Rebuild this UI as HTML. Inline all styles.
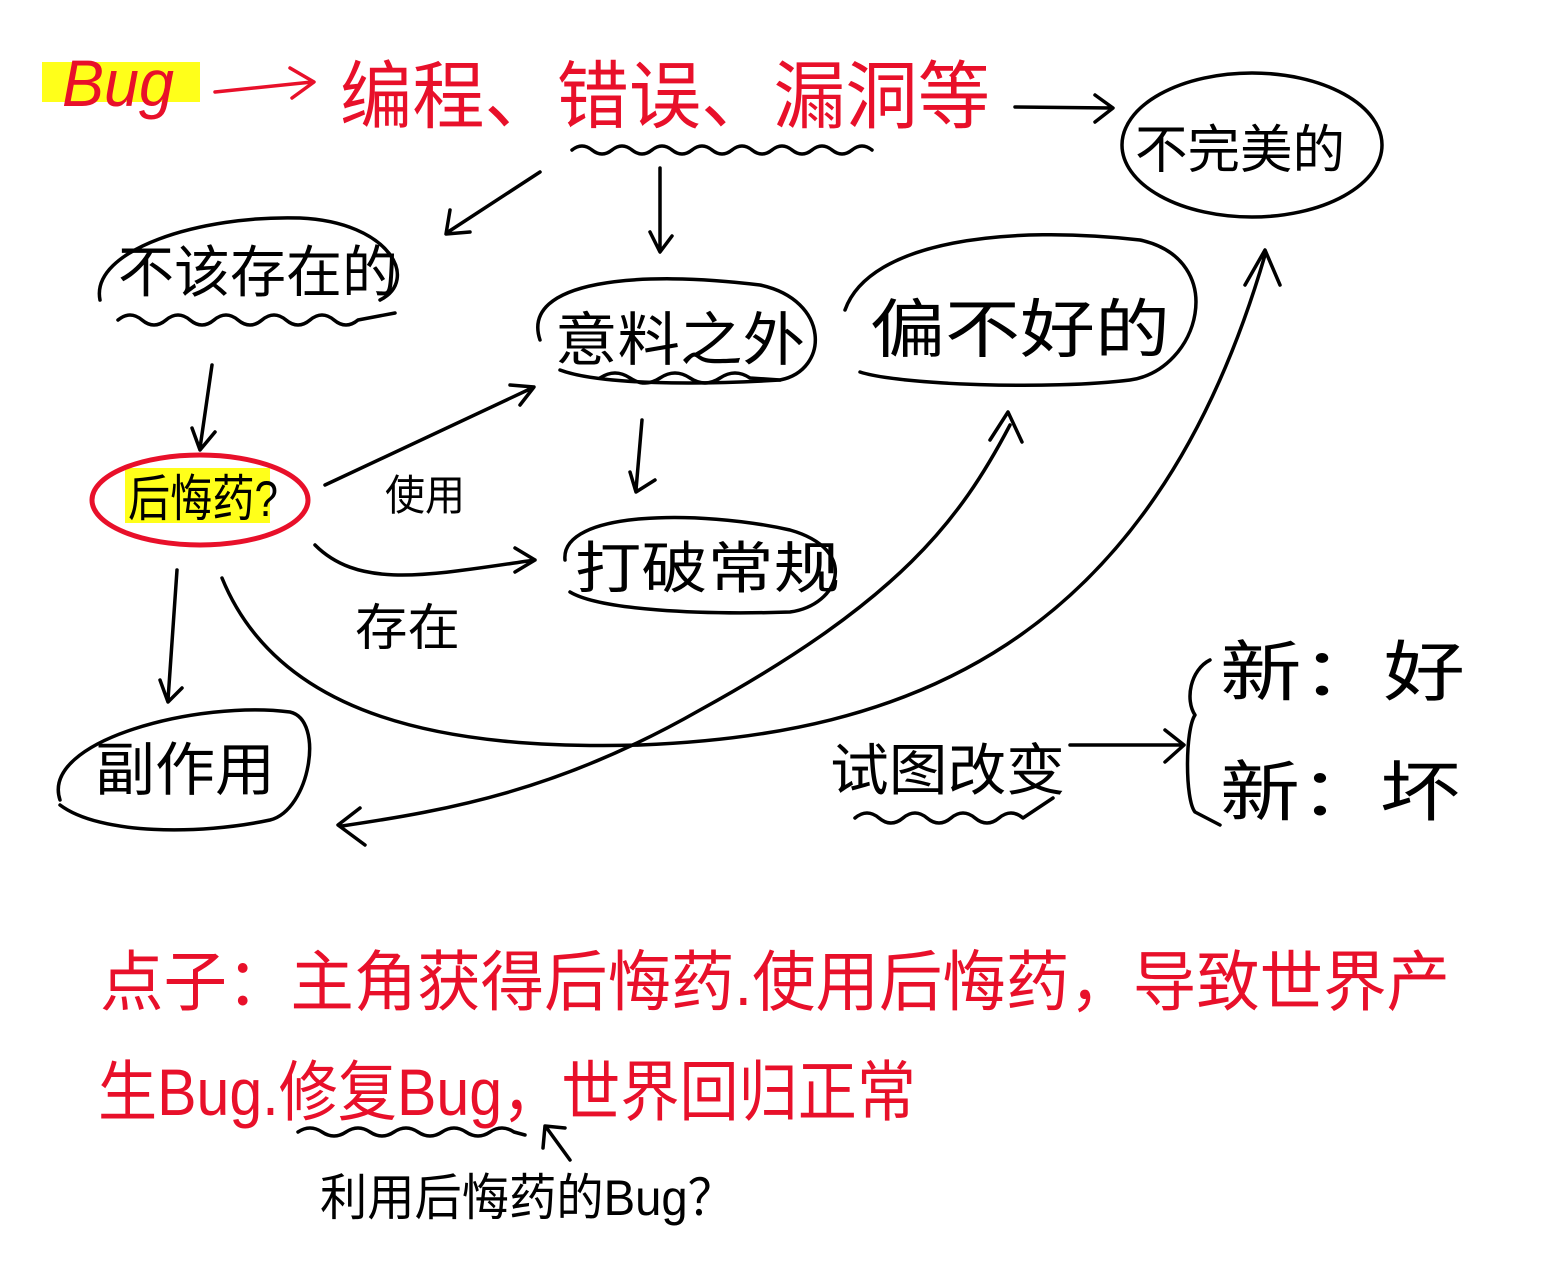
<!DOCTYPE html>
<html><head><meta charset="utf-8"><style>
html,body{margin:0;padding:0;background:#fff;}
svg{display:block;}
text{font-family:"Liberation Sans","Noto Sans CJK SC",sans-serif;}
</style></head><body>
<svg width="1543" height="1282" viewBox="0 0 1543 1282" xmlns="http://www.w3.org/2000/svg">
<g fill="none" stroke="#000" stroke-width="3.5" stroke-linecap="round" stroke-linejoin="round">
<rect x="42" y="62" width="158" height="40" fill="#ffff1a" stroke="none"/>
<rect x="125" y="468" width="145" height="55" fill="#ffff1a" stroke="none"/>
<path d="M215 92 L312 82 M290 68 L314 82 L292 98" stroke="#e8102a"/>
<path d="M1015 107 L1112 108 M1095 95 L1113 108 L1095 122"/>
<path d="M572 150 q10 -8 20 0 t20 0 t20 0 t20 0 t20 0 t20 0 t20 0 t20 0 t20 0 t20 0 t20 0 t20 0 t20 0 t20 0 t20 0"/>
<ellipse cx="1252" cy="145" rx="130" ry="72"/>
<path d="M100 300 C90 250 200 215 300 218 C390 222 420 280 380 300"/>
<path d="M118 320 q12 -10 24 0 t24 0 t24 0 t24 0 t24 0 t24 0 t24 0 t24 0 t24 0 t24 0 L395 313"/>
<path d="M540 340 C520 280 640 270 760 285 C830 300 830 370 780 380 C700 385 600 385 560 370"/>
<path d="M600 378 q15 -10 30 0 t30 0 t30 0 t30 0 t30 0 L780 380"/>
<path d="M845 310 C870 240 1010 225 1140 240 C1230 260 1200 370 1130 380 C1050 390 900 385 860 372"/>
<ellipse cx="200" cy="500" rx="108" ry="45" stroke="#e8102a" stroke-width="5"/>
<path d="M565 560 C560 510 700 510 790 530 C860 550 840 605 790 612 C700 615 600 610 570 592"/>
<path d="M60 800 C40 740 200 700 290 712 C325 720 310 810 270 820 C200 835 100 835 60 805"/>
<path d="M540 172 L448 232 M450 210 L446 234 L470 232"/>
<path d="M660 168 L660 250 M650 232 L660 252 L672 236"/>
<path d="M212 365 L200 448 M192 428 L200 450 L215 432"/>
<path d="M325 485 L532 388 M510 385 L534 387 L520 405"/>
<path d="M642 420 L636 490 M630 472 L636 492 L655 480"/>
<path d="M315 545 C360 590 430 575 535 560 M515 548 L535 560 L515 572"/>
<path d="M177 570 L168 700 M160 680 L168 702 L182 688"/>
<path d="M222 578 C280 720 450 750 640 745 C900 735 1150 650 1265 255 M1245 285 L1265 250 L1280 285"/>
<path d="M1010 425 C960 520 900 600 700 710 C560 790 450 810 342 826 M360 808 L338 825 L365 845 M990 440 L1008 412 L1022 442"/>
<path d="M1070 745 L1182 745 M1165 730 L1184 745 L1165 762"/>
<path d="M855 818 q12 -10 24 0 t24 0 t24 0 t24 0 t24 0 t24 0 t24 0 q15 -10 30 -20"/>
<path d="M1210 660 C1190 670 1185 700 1195 715 C1185 730 1185 800 1195 812 L1220 825"/>
<path d="M298 1132 q12 -8 24 0 t24 0 t24 0 t24 0 t24 0 t24 0 t24 0 t24 0 t24 0 L525 1135"/>
<path d="M570 1160 L546 1127 M543 1148 L545 1126 L565 1128"/>
</g>
<g fill="#e8102a">
<text x="62" y="106" font-size="66" font-style="italic" textLength="112" lengthAdjust="spacingAndGlyphs">Bug</text>
<text x="340" y="122" font-size="74" textLength="650" lengthAdjust="spacingAndGlyphs">编程、错误、漏洞等</text>
<text x="100" y="1005" font-size="66" textLength="1350" lengthAdjust="spacingAndGlyphs">点子：主角获得后悔药.使用后悔药，导致世界产</text>
<text x="98" y="1115" font-size="66" textLength="818" lengthAdjust="spacingAndGlyphs">生Bug.修复Bug，世界回归正常</text>
</g>
<g fill="#000">
<text x="1135" y="168" font-size="52" textLength="210" lengthAdjust="spacingAndGlyphs">不完美的</text>
<text x="118" y="292" font-size="56" textLength="280" lengthAdjust="spacingAndGlyphs">不该存在的</text>
<text x="555" y="360" font-size="58" textLength="250" lengthAdjust="spacingAndGlyphs">意料之外</text>
<text x="870" y="352" font-size="64" textLength="300" lengthAdjust="spacingAndGlyphs">偏不好的</text>
<text x="128" y="516" font-size="50" textLength="150" lengthAdjust="spacingAndGlyphs">后悔药?</text>
<text x="385" y="510" font-size="42" textLength="80" lengthAdjust="spacingAndGlyphs">使用</text>
<text x="575" y="588" font-size="56" textLength="265" lengthAdjust="spacingAndGlyphs">打破常规</text>
<text x="355" y="645" font-size="50" textLength="105" lengthAdjust="spacingAndGlyphs">存在</text>
<text x="95" y="790" font-size="58" textLength="180" lengthAdjust="spacingAndGlyphs">副作用</text>
<text x="830" y="790" font-size="56" textLength="235" lengthAdjust="spacingAndGlyphs">试图改变</text>
<text x="1220" y="695" font-size="66" textLength="245" lengthAdjust="spacingAndGlyphs">新：好</text>
<text x="1220" y="815" font-size="66" textLength="240" lengthAdjust="spacingAndGlyphs">新：坏</text>
<text x="320" y="1215" font-size="50" textLength="415" lengthAdjust="spacingAndGlyphs">利用后悔药的Bug？</text>
</g>
</svg>
</body></html>
